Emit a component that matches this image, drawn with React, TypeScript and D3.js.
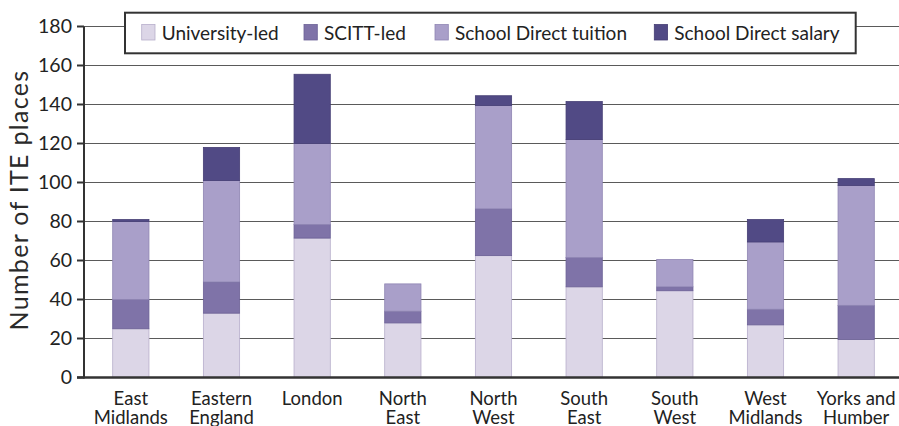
import React from "react";
import * as d3 from "d3";

const categories = [
  ["East", "Midlands"],
  ["Eastern", "England"],
  ["London"],
  ["North", "East"],
  ["North", "West"],
  ["South", "East"],
  ["South", "West"],
  ["West", "Midlands"],
  ["Yorks and", "Humber"],
];
const seriesNames = ["University-led", "SCITT-led", "School Direct tuition", "School Direct salary"];
const universityLed = [25, 33, 71.5, 28, 62.5, 46.5, 44.5, 27, 19.5];
const scittLed = [15, 16, 7, 6, 24, 15, 2, 8, 17.5];
const sdTuition = [40, 52, 41.5, 14, 53, 60.5, 14, 34.5, 61.5];
const sdSalary = [1, 17, 35.5, 0, 5, 19.5, 0, 11.5, 3.5];
const yTicks = [0, 20, 40, 60, 80, 100, 120, 140, 160, 180];
const colors = ["#dcd6e7", "#7f73a8", "#a99fc9", "#514a85"];
const strokes = ["#b7aecb", "#6c6196", "#8f85b3", "#453e74"];

const W = 899;
const H = 426;
const FONT = "Lato, 'Open Sans', sans-serif";

export default function App() {
  const x = d3
    .scaleBand<number>()
    .domain(d3.range(categories.length))
    .range([85.5, 901.5])
    .paddingInner(0.6)
    .paddingOuter(0.3);
  const y = d3.scaleLinear().domain([0, 180]).range([377.5, 26.5]);

  const table = categories.map((_, i) => ({
    i,
    s0: universityLed[i],
    s1: scittLed[i],
    s2: sdTuition[i],
    s3: sdSalary[i],
  }));
  const stacked = d3.stack<any>().keys(["s0", "s1", "s2", "s3"])(table);

  const legendX = [141.7, 304, 435, 654.3];

  return (
    <svg width={W} height={H} style={{ position: "absolute", left: 0, top: 0, background: "#fff" }} fontFamily={FONT}>
      {yTicks.map((t) => (
        <line key={"g" + t} x1={84} x2={W} y1={y(t)} y2={y(t)} stroke="#5a5a5a" strokeWidth={1.2} />
      ))}
      {stacked.map((layer, k) => (
        <g key={k}>
          {layer.map((d, i) =>
            d[1] - d[0] > 0 ? (
              <rect
                key={i}
                x={x(i)!}
                width={x.bandwidth()}
                y={y(d[1])}
                height={y(d[0]) - y(d[1])}
                fill={colors[k]}
                stroke={strokes[k]}
                strokeWidth={0.8}
              />
            ) : null
          )}
        </g>
      ))}
      <line x1={84} x2={84} y1={y(180)} y2={y(0) + 1} stroke="#333" strokeWidth={2} />
      <line x1={77} x2={W} y1={y(0)} y2={y(0)} stroke="#333" strokeWidth={2.5} />
      {yTicks.map((t) => (
        <g key={"t" + t}>
          <line x1={77} x2={84} y1={y(t)} y2={y(t)} stroke="#333" strokeWidth={2} />
          <text x={72} y={y(t)} dy="0.35em" textAnchor="end" fontSize={19.5} fill="#222">
            {t}
          </text>
        </g>
      ))}
      {categories.map((lines, i) => (
        <text key={"x" + i} x={x(i)! + x.bandwidth() / 2} textAnchor="middle" fontSize={18.5} fill="#222">
          {lines.map((l, j) => (
            <tspan key={j} x={x(i)! + x.bandwidth() / 2} y={405 + j * 19}>
              {l}
            </tspan>
          ))}
        </text>
      ))}
      <text
        transform={`translate(28,200) rotate(-90)`}
        textAnchor="middle"
        fontSize={25}
        letterSpacing={1.3}
        fill="#2a2a2a"
      >
        Number of ITE places
      </text>
      <rect x={125} y={12.7} width={730.7} height={40.6} fill="#fff" stroke="#333" strokeWidth={2} />
      {seriesNames.map((n, k) => (
        <g key={"l" + k}>
          <rect x={legendX[k]} y={24.5} width={13.3} height={15.5} fill={colors[k]} stroke={strokes[k]} strokeWidth={0.8} />
          <text x={legendX[k] + 20} y={40} fontSize={19} fill="#222">
            {n}
          </text>
        </g>
      ))}
    </svg>
  );
}
